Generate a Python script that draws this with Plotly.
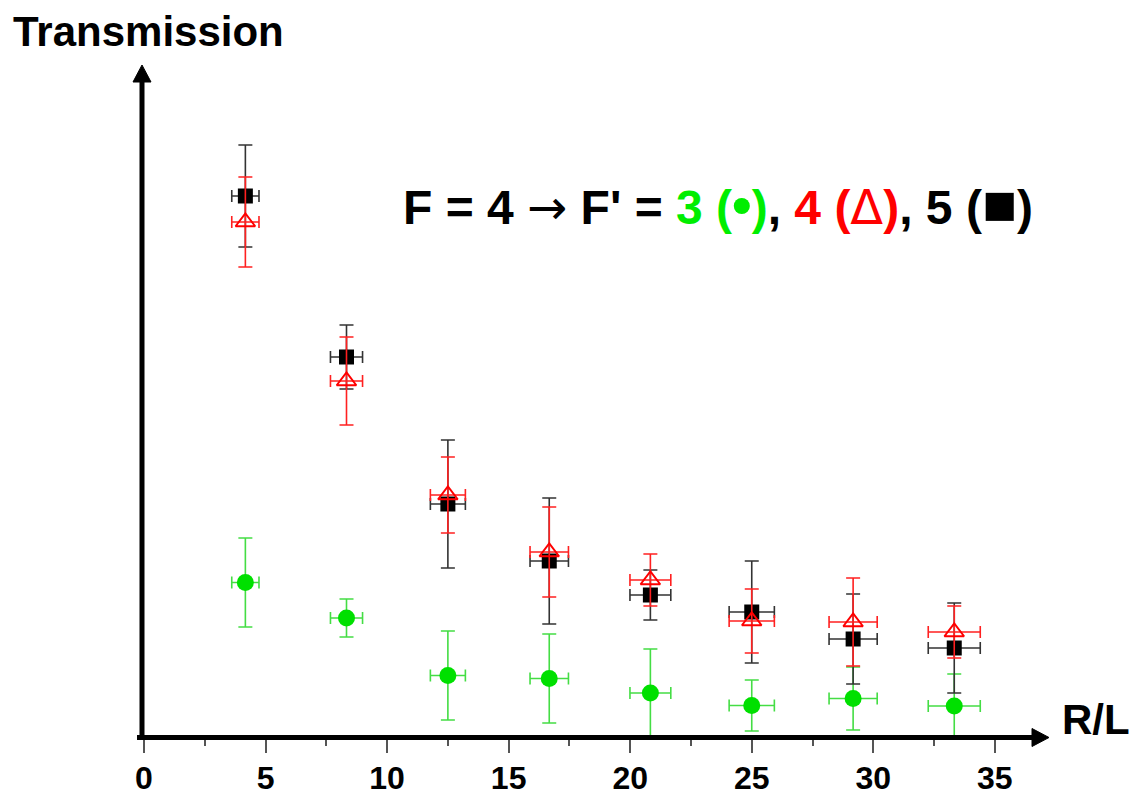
import plotly.graph_objects as go

# R/L positions shared by the three transitions
r_over_l = [4.17, 8.33, 12.5, 16.67, 20.83, 25.0, 29.17, 33.33]
r_err = [0.56, 0.66, 0.72, 0.79, 0.84, 0.93, 0.99, 1.07]

# F' = 3 (circles)
t_f3 = [0.1555, 0.120, 0.0625, 0.0595, 0.045, 0.0325, 0.0395, 0.032]
e_f3 = [0.0445, 0.019, 0.0445, 0.0445, 0.044, 0.0255, 0.0315, 0.032]

# F' = 4 (open triangles)
t_f4 = [0.516, 0.357, 0.243, 0.186, 0.158, 0.117, 0.116, 0.106]
e_f4 = [0.045, 0.044, 0.038, 0.045, 0.026, 0.032, 0.044, 0.026]

# F' = 5 (squares)
t_f5 = [0.542, 0.381, 0.234, 0.177, 0.143, 0.126, 0.099, 0.090]
e_f5 = [0.051, 0.032, 0.064, 0.063, 0.025, 0.051, 0.045, 0.045]

x_ticks = [0, 5, 10, 15, 20, 25, 30, 35]

W, H = 1135, 799
L, R, T, B = 144, 87, 65, 61
PW, PH = W - L - R, H - T - B
px_per_unit = 24.31
x_max = PW / px_per_unit
y_max = 0.673


def px(xp):
    return (xp - L) / PW


def py(yp):
    return (H - B - yp) / PH


fig = go.Figure()

fig.add_trace(go.Scatter(
    x=r_over_l, y=t_f3, mode="markers", name="F' = 3",
    marker=dict(symbol="circle", size=17, color="#00e000"),
    error_y=dict(type="data", array=e_f3, color="#44dd44", thickness=1.6, width=7),
    error_x=dict(type="data", array=r_err, color="#44dd44", thickness=1.6, width=6),
))
fig.add_trace(go.Scatter(
    x=r_over_l, y=t_f5, mode="markers", name="F' = 5",
    marker=dict(symbol="square", size=15, color="black"),
    error_y=dict(type="data", array=e_f5, color="#333333", thickness=1.6, width=7),
    error_x=dict(type="data", array=r_err, color="#333333", thickness=1.6, width=6),
))
fig.add_trace(go.Scatter(
    x=r_over_l, y=t_f4, mode="markers", name="F' = 4",
    marker=dict(symbol="triangle-up-open", size=17, color="#ff0000",
                line=dict(width=2, color="#ff0000")),
    error_y=dict(type="data", array=e_f4, color="#ff2020", thickness=1.6, width=7),
    error_x=dict(type="data", array=r_err, color="#ff2020", thickness=1.6, width=6),
))

shapes = [
    # horizontal axis with arrow
    dict(type="line", xref="paper", yref="paper",
         x0=px(137), x1=px(1034), y0=py(737.5), y1=py(737.5),
         line=dict(color="black", width=5), layer="above"),
    dict(type="path", xref="paper", yref="paper",
         path=f"M {px(1032)},{py(728.5)} L {px(1049)},{py(737.5)} L {px(1032)},{py(746.5)} Z",
         fillcolor="black", line=dict(color="black", width=1), layer="above"),
    # vertical axis with arrow
    dict(type="line", xref="paper", yref="paper",
         x0=px(142), x1=px(142), y0=py(740), y1=py(80),
         line=dict(color="black", width=5), layer="above"),
    dict(type="path", xref="paper", yref="paper",
         path=f"M {px(133)},{py(82)} L {px(142)},{py(65)} L {px(151)},{py(82)} Z",
         fillcolor="black", line=dict(color="black", width=1), layer="above"),
]

legend_text = (
    "<b>F = 4 <span style='font-family:DejaVu Sans;font-weight:normal'>\u2192</span> F' = "
    "<span style='color:#00ee00'>3 (<span style='font-size:56px'>\u2022</span>)</span>, "
    "<span style='color:#ff0000'>4 (<span style='font-family:DejaVu Sans;font-weight:normal'>\u0394</span>)</span>, "
    "5 (<span style='font-size:58px'>\u25a0</span>)</b>"
)

annotations = [
    dict(text="<b>Transmission</b>", xref="paper", yref="paper",
         x=px(11), y=py(32), xanchor="left", yanchor="middle", showarrow=False,
         font=dict(family="Liberation Sans", size=42, color="black")),
    dict(text="<b>R/L</b>", xref="paper", yref="paper",
         x=px(1060), y=py(719), xanchor="left", yanchor="middle", showarrow=False,
         font=dict(family="Liberation Sans", size=42, color="black")),
    dict(text=legend_text,
         xref="paper", yref="paper",
         x=px(401), y=py(203), xanchor="left", yanchor="middle", showarrow=False,
         font=dict(family="Liberation Sans", size=48, color="black")),
]

fig.update_layout(
    width=W, height=H,
    margin=dict(l=L, r=R, t=T, b=B, pad=0, autoexpand=False),
    paper_bgcolor="white", plot_bgcolor="white",
    showlegend=False,
    shapes=shapes, annotations=annotations,
    xaxis=dict(
        range=[0, x_max], tickvals=x_ticks, ticktext=[str(v) for v in x_ticks],
        ticks="outside", ticklen=14, tickwidth=2, tickcolor="#555555",
        minor=dict(ticks="outside", ticklen=7, tickwidth=2, tickcolor="#555555",
                   dtick=2.5, tick0=0),
        showgrid=False, zeroline=False, showline=False, automargin=False,
        ticklabelstandoff=-2,
        tickfont=dict(family="Liberation Sans", size=32, color="black", weight="bold"),
    ),
    yaxis=dict(range=[0, y_max], showticklabels=False, ticks="",
               showgrid=False, zeroline=False, showline=False, automargin=False),
)

fig.write_html("out.html")
